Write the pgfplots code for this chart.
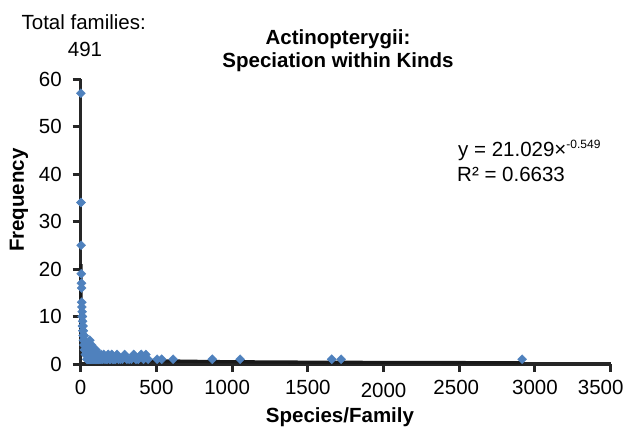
\documentclass[border=0pt]{standalone}
\usepackage{pgfplots}
\pgfplotsset{compat=1.18}
\usepackage{fontspec}
\setmainfont{Liberation Sans}
\definecolor{mkblue}{HTML}{4F81BD}
\definecolor{axisblk}{HTML}{262626}

\begin{document}
\begin{tikzpicture}[font=\fontsize{20.5bp}{23bp}\selectfont]
\path[use as bounding box] (-80.7bp,-63bp) rectangle (545.3bp,364bp);
\begin{axis}[
at={(0,0)}, anchor=south west,
scale only axis,
width=530bp, height=285bp,
xmin=0, xmax=3500,
ymin=0, ymax=60,
axis x line=bottom, axis y line=left,
axis line style={-, line width=3.3bp, color=axisblk},
xtick={0,500,...,3500},
xticklabels={0,500,\hspace*{-10bp}1000,1500,\raisebox{-3bp}[\height][\depth]{2000},\hspace*{-6bp}2500,3000,\hspace*{-20bp}3500},
ytick={0,10,...,60},
tick align=outside,
major tick length=8bp,
tick style={line width=3bp, color=axisblk},
/pgf/number format/assume math mode=true,
xticklabel style={inner sep=0pt, anchor=north, yshift=-7.7bp},
yticklabel style={inner sep=0pt, anchor=east, xshift=-10.7bp},
title={Actinopterygii:\\Speciation within Kinds},
title style={at={(axis description cs:0.4855,1.152)}, anchor=north, inner sep=0pt,
  align=center, font=\fontsize{20.5bp}{23bp}\selectfont\bfseries},
xlabel={Species/Family},
xlabel style={at={(axis description cs:0.4892,-0.2035)}, anchor=base, inner sep=0pt,
  font=\fontsize{20.5bp}{23bp}\selectfont\bfseries},
ylabel={Frequency},
ylabel style={at={(axis description cs:-0.1165,0.575)}, anchor=center, rotate=0,
  font=\fontsize{20.5bp}{23bp}\selectfont\bfseries},
clip=false,
]
% frequency of families by number of species per family
\addplot[only marks, mark=square*, mark size=3.2bp,
  mark options={rotate=45, fill=mkblue, draw=mkblue}] coordinates {
(1,57) (2,34) (3,25) (4,19) (5,17) (6,16) (7,13) (8,12) (9,11) (10,10)
(11,10) (12,8) (13,9) (14,7) (15,8) (16,6) (17,7) (18,5) (19,6) (20,5)
(21,4) (22,6) (23,5) (24,4) (25,3) (26,5) (27,4) (28,3) (29,4) (30,3)
(31,2) (32,4) (33,3) (34,2) (35,3) (36,2) (37,4) (38,2) (39,3) (40,2)
(41,1) (42,3) (43,2) (44,2) (45,1) (46,2) (47,1) (48,3) (49,1) (50,2)
(52,1) (53,2) (55,1) (56,2) (58,1) (60,5) (62,2) (64,1) (66,4) (68,1)
(70,2) (72,4) (75,1) (78,2) (80,1) (82,3) (85,1) (88,2) (90,1) (93,2)
(96,1) (100,3) (104,1) (108,2) (112,1) (116,1) (120,2) (125,1) (130,1)
(135,2) (140,1) (146,1) (152,2) (160,1) (168,1) (175,1) (182,2) (190,1)
(198,1) (205,2) (212,1) (220,1) (230,1) (240,2) (250,1) (262,1) (275,1)
(290,2) (305,1) (320,1) (335,1) (350,2) (365,1) (380,1) (400,2) (415,1)
(430,2) (445,1) (505,1) (535,1) (610,1) (869,1) (1053,1) (1658,1)
(1720,1) (2915,1)
};
% power trendline y = 21.029 x^-0.549
\addplot[line width=3.3bp, color=black!90, smooth] coordinates {
(1,21.03) (1.5,16.83) (2,14.37) (3,11.50) (5,8.69) (7,7.23) (10,5.94)
(15,4.76) (20,4.06) (30,3.25) (50,2.46) (75,1.97) (100,1.68) (150,1.34)
(200,1.15) (300,0.918) (500,0.694) (750,0.556) (1000,0.474) (1500,0.379)
(2000,0.324) (2500,0.287) (2915,0.264)
};
\end{axis}
\node[anchor=base, inner sep=0pt] at (83.7bp-80.7bp,334bp) {Total families:};
\node[anchor=base, inner sep=0pt] at (85bp-80.7bp,307bp) {491};
\node[anchor=base west, inner sep=0pt] at (377.3bp,207bp)
  {y = 21.029×\raisebox{8bp}{\fontsize{12bp}{12bp}\selectfont -0.549}};
\node[anchor=base west, inner sep=0pt] at (376.3bp,182.3bp) {R² = 0.6633};
\end{tikzpicture}
\end{document}
